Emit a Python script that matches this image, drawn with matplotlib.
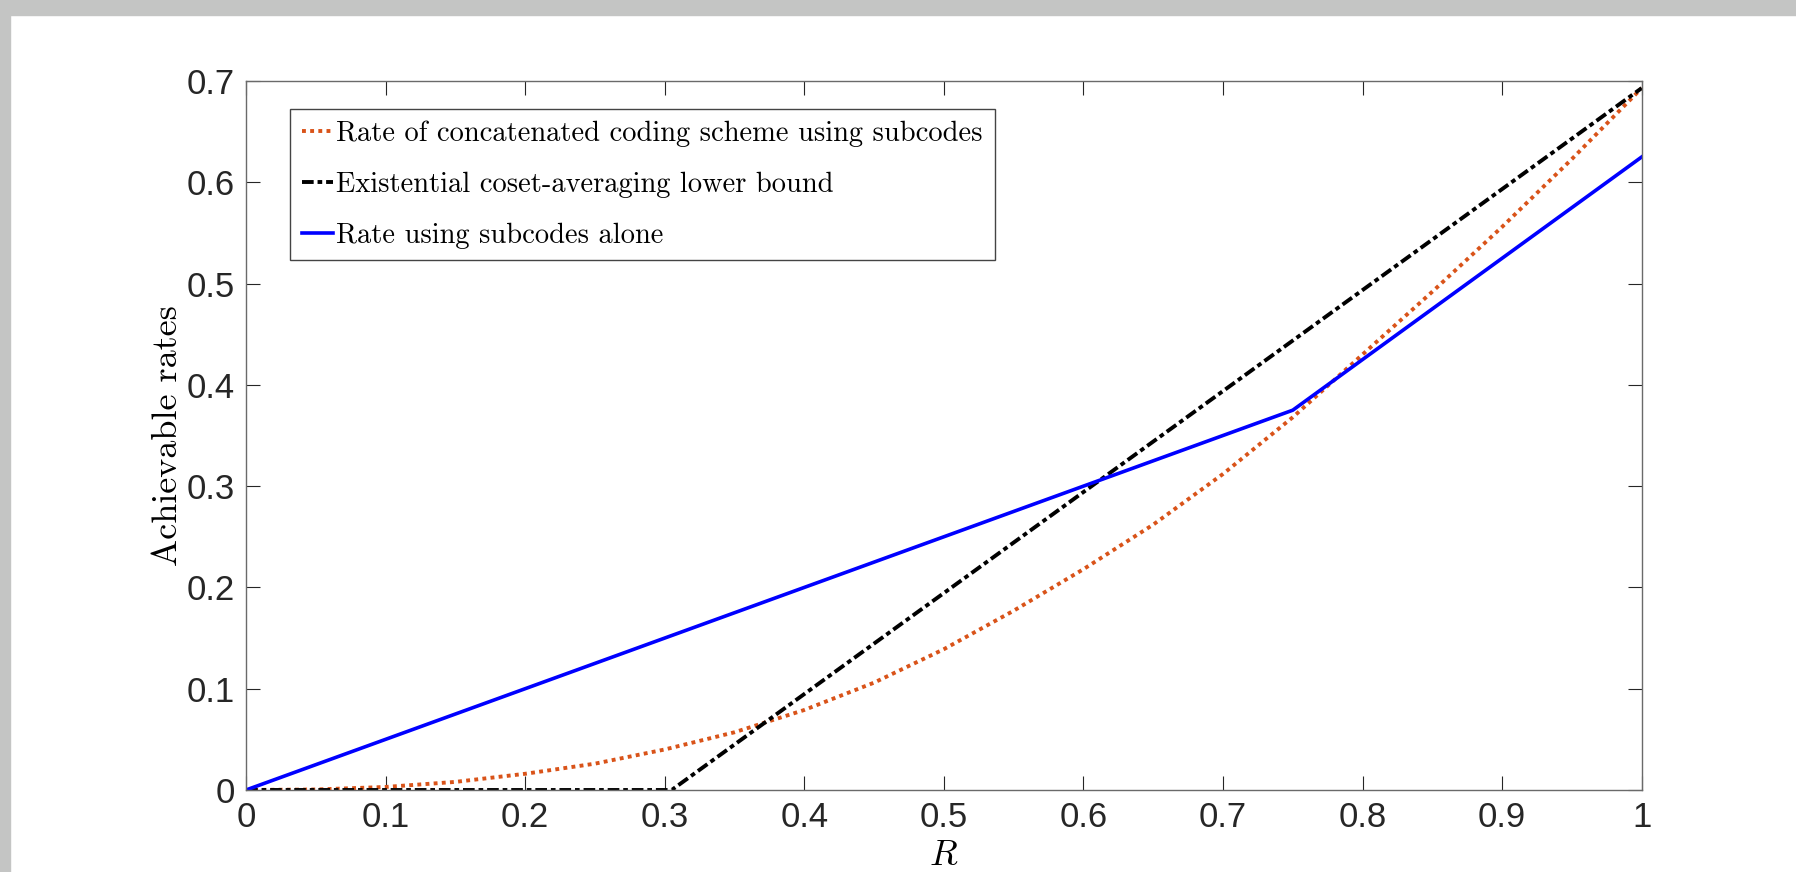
import numpy as np
import matplotlib
matplotlib.use("Agg")
import matplotlib.pyplot as plt
from matplotlib.patches import Rectangle

plt.rcParams['mathtext.fontset'] = 'cm'
plt.rcParams['font.family'] = ['Liberation Sans', 'DejaVu Sans']

# R values (x axis)
r_vals = [0.0, 0.05, 0.1, 0.15, 0.2, 0.25, 0.3, 0.35, 0.4, 0.45, 0.5,
          0.55, 0.6, 0.65, 0.7, 0.75, 0.8, 0.85, 0.9, 0.95, 1.0]
# concatenated scheme
concat_rate = [0.0, 0.0005, 0.003, 0.008, 0.016, 0.026, 0.040, 0.057, 0.079, 0.106, 0.139,
               0.177, 0.218, 0.262, 0.312, 0.368, 0.430, 0.492, 0.556, 0.623, 0.693]
# coset-averaging lower bound: zero until the kink, then a straight line
bound_r = [0.0, 0.305, 1.0]
bound_rate = [0.0, 0.0, 0.693]
# subcodes alone: two linear pieces
sub_r = [0.0, 0.75, 1.0]
sub_rate = [0.0, 0.375, 0.625]

labels = ["Rate of concatenated coding scheme using subcodes",
          "Existential coset-averaging lower bound",
          "Rate using subcodes alone"]

fig = plt.figure(figsize=(17.96, 8.72), dpi=100)
# grey window border at top and left
fig.patches.append(Rectangle((0, 1 - 15 / 872), 1, 15 / 872, transform=fig.transFigure,
                             color='#c4c5c4', zorder=0))
fig.patches.append(Rectangle((0, 0), 10 / 1796, 1, transform=fig.transFigure,
                             color='#c4c5c4', zorder=0))

ax = fig.add_axes([246 / 1796, 1 - 790 / 872, (1641.7 - 246) / 1796, (790 - 81) / 872])

ax.plot(r_vals, concat_rate, linestyle=(0, (1, 1.1)), color='#D95319', linewidth=2.8,
        label=labels[0])
ax.plot(bound_r, bound_rate, linestyle=(0, (3, 1, 1.2, 1)), color='black', linewidth=2.8,
        dash_capstyle='butt', label=labels[1])
ax.plot(sub_r, sub_rate, linestyle='-', color='#0000ff', linewidth=2.6, label=labels[2])

ax.set_xlim(0, 1)
ax.set_ylim(0, 0.7)
ax.set_xticks(np.arange(0, 1.01, 0.1))
ax.set_yticks(np.arange(0, 0.71, 0.1))
ax.set_xticklabels(['0', '0.1', '0.2', '0.3', '0.4', '0.5', '0.6', '0.7', '0.8', '0.9', '1'])
ax.set_yticklabels(['0', '0.1', '0.2', '0.3', '0.4', '0.5', '0.6', '0.7'])
ax.tick_params(direction='in', length=10, width=0.8, top=True, right=True,
               labelsize=25, colors='#262626', pad=8)
for s in ax.spines.values():
    s.set_color('#6a6a6a')
    s.set_linewidth(1.0)

ax.set_xlabel(r'$R$', fontsize=26, labelpad=3)
ax.set_ylabel('Achievable rates', fontsize=26, family='cmr10', labelpad=2)

leg = ax.legend(loc='upper left', bbox_to_anchor=(0.0315, 0.9605), borderaxespad=0,
                prop={'family': 'cmr10', 'size': 20.5}, fancybox=False, framealpha=1,
                edgecolor='#444444', handlelength=1.1, handletextpad=0.1,
                labelspacing=0.85, borderpad=0.42)
leg.get_frame().set_linewidth(1.0)

fig.savefig('out.png', dpi=100)
